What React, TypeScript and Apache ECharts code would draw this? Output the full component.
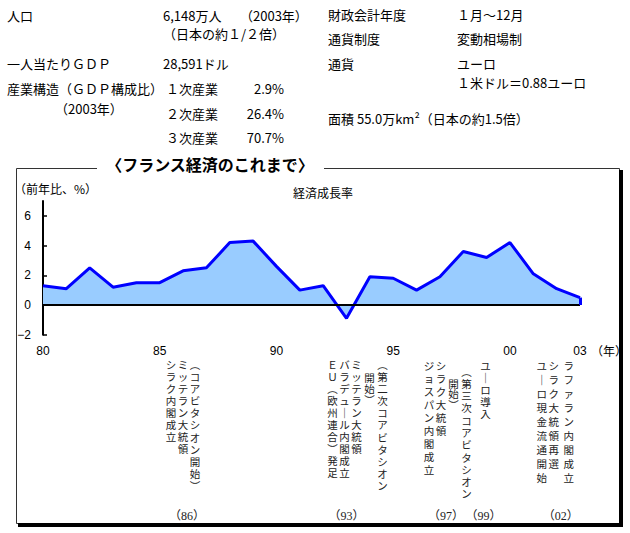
import React, { useEffect, useRef } from 'react';
import * as echarts from 'echarts';

// ---- data ----
const years = ['1980','1981','1982','1983','1984','1985','1986','1987','1988','1989','1990','1991','1992','1993','1994','1995','1996','1997','1998','1999','2000','2001','2002','2003'];
const growth = [1.3, 1.1, 2.5, 1.2, 1.5, 1.5, 2.3, 2.5, 4.2, 4.3, 2.6, 1.0, 1.3, -0.9, 1.9, 1.8, 1.0, 1.9, 3.6, 3.2, 4.2, 2.1, 1.1, 0.5];
const yTicks = [-2, 0, 2, 4, 6];
const xLabelYears = ['1980', '1985', '1990', '1995', '2000', '2003'];

const chartTitle = '〈フランス経済のこれまで〉';
const seriesName = '経済成長率';
const yUnit = '（前年比、%）';
const xUnit = '（年）';

const profileLeftTexts = ['人口', '6,148万人', '（2003年）', '（日本の約１/２倍）', '一人当たりＧＤＰ', '28,591ドル', '産業構造（ＧＤＰ構成比）', '（2003年）'];
const industryNames = ['１次産業', '２次産業', '３次産業'];
const industryShares = ['2.9%', '26.4%', '70.7%'];
const profileRightTexts = ['財政会計年度', '１月～12月', '通貨制度', '変動相場制', '通貨', 'ユーロ', '１米ドル＝0.88ユーロ', '面積 55.0万km²（日本の約1.5倍）'];

const eventYears = ['1986', '1993', '1997', '1999', '2002'];
const eventLabels = ['（86）', '（93）', '（97）', '（99）', '（02）'];
// columns listed left to right
const eventTexts = [
  ['シラク内閣成立', 'ミッテラン大統領', '（コアビタシオン開始）'],
  ['ＥＵ（欧州連合）発足', 'バラデュール内閣成立', 'ミッテラン大統領', '開始）', '（第二次コアビタシオン'],
  ['ジョスパン内閣成立', 'シラク大統領'],
  ['開始）', '（第三次コアビタシオン', 'ユーロ導入'],
  ['ユーロ現金流通開始', 'シラク大統領再選', 'ラファラン内閣成立'],
];

// ---- layout (positions / styles) ----
const JP = "'Noto Sans CJK JP', sans-serif";
const profileLeftPos = [[7, 15], [163, 15], [240, 15], [163, 33], [7, 63], [163, 63], [7, 88], [55, 108]];
const profileRightPos = [[328, 14], [457, 14], [328, 38], [457, 38], [328, 63], [457, 63], [457, 82], [328, 118]];
const industryY = [88, 113, 137];
const eventLayout = [
  { dx: [-12, 0, 12], y0: [364, 364, 364], step: [12, 12, 12.2], labelDx: 4 },
  { dx: [-14, -2, 10, 23, 36], y0: [364, 364, 364, 377, 364], step: [12, 12, 12, 11, 12.2], labelDx: 0 },
  { dx: [-11, 1], y0: [365, 365], step: [13, 13], labelDx: 6 },
  { dx: [-33, -20, -1], y0: [383, 371, 365], step: [10.5, 12.3, 12], labelDx: -3 },
  { dx: [-15, -3, 12], y0: [365, 365, 365], step: [14, 14, 14], labelDx: 4 },
];

const vmap: Record<string, string> = { '（': '︵', '）': '︶', 'ー': '｜' };

export default function App() {
  const ref = useRef<HTMLDivElement>(null);
  useEffect(() => {
    if (!ref.current) return;
    const chart = echarts.init(ref.current, undefined, { renderer: 'svg' });
    const last = years.length - 1;
    chart.setOption({
      animation: false,
      backgroundColor: '#fff',
      grid: { left: 43, right: 50, top: 201, bottom: 198.3, containLabel: false },
      xAxis: {
        type: 'category',
        data: years,
        boundaryGap: false,
        axisLine: { show: false, onZero: false },
        axisTick: { show: false },
        splitLine: { show: false },
        axisLabel: {
          interval: (_i: number, v: string) => xLabelYears.includes(v),
          formatter: (v: string) => v.slice(2),
          color: '#000',
          fontSize: 12,
          fontFamily: "'Liberation Sans', Arial, sans-serif",
          margin: 10,
        },
      },
      yAxis: {
        type: 'value',
        min: -2,
        max: 7,
        interval: 1,
        axisLine: { show: true, lineStyle: { color: '#000', width: 2 } },
        axisTick: { show: true, inside: true, length: 4, customValues: yTicks, lineStyle: { color: '#000', width: 1.5 } },
        axisLabel: {
          customValues: yTicks,
          formatter: (v: number) => (v < 0 ? '−' + Math.abs(v) : String(v)),
          color: '#000',
          fontSize: 12,
          fontFamily: "'Liberation Sans', Arial, sans-serif",
          margin: 12,
        },
        splitLine: { show: false },
      },
      series: [
        {
          type: 'line',
          name: seriesName,
          data: growth,
          symbol: 'none',
          lineStyle: { color: '#0000ff', width: 3 },
          areaStyle: { color: '#99ccff', opacity: 1 },
          markLine: {
            silent: true,
            symbol: 'none',
            label: { show: false },
            data: [
              { yAxis: 0, lineStyle: { color: '#000', width: 2, type: 'solid' } },
              [
                { coord: [years[last], growth[last]], lineStyle: { color: '#0000ff', width: 3, type: 'solid' } },
                { coord: [years[last], 0] },
              ],
            ],
          },
        },
      ],
    });

    const g: any[] = [];
    const txt = (text: string, x: number, y: number, opt: any = {}) =>
      g.push({
        type: 'text',
        x,
        y,
        z: 20,
        style: {
          text,
          fill: opt.fill || '#000',
          font: opt.font || `13px ${JP}`,
          textAlign: opt.align || 'left',
          textVerticalAlign: opt.valign || 'middle',
          lineHeight: opt.lineHeight,
        },
      });

    // frame
    g.push({ type: 'rect', z: 1, shape: { x: 16.5, y: 168.5, width: 603, height: 355 }, style: { fill: 'none', stroke: '#333', lineWidth: 1 } });
    g.push({ type: 'rect', z: 2, shape: { x: 619, y: 170, width: 4, height: 357 }, style: { fill: '#000' } });
    g.push({ type: 'rect', z: 2, shape: { x: 18, y: 523, width: 605, height: 4 }, style: { fill: '#000' } });
    g.push({ type: 'rect', z: 3, shape: { x: 97, y: 156, width: 227, height: 20 }, style: { fill: '#fff' } });
    txt(chartTitle, 210, 164, { font: `bold 16px ${JP}`, align: 'center' });

    // profile
    profileLeftTexts.forEach((t, i) => txt(t, profileLeftPos[i][0], profileLeftPos[i][1]));
    industryNames.forEach((t, i) => txt(t, 166, industryY[i]));
    industryShares.forEach((t, i) => txt(t, 284, industryY[i], { align: 'right' }));
    profileRightTexts.forEach((t, i) => txt(t, profileRightPos[i][0], profileRightPos[i][1]));

    // chart texts
    txt(yUnit, 14, 188, { font: `12px ${JP}` });
    txt(seriesName, 323, 192, { font: `12px ${JP}`, align: 'center' });
    txt(xUnit, 609, 350, { font: `12px ${JP}`, align: 'center' });

    // events (vertical columns)
    eventYears.forEach((yr, gi) => {
      const cx = chart.convertToPixel({ xAxisIndex: 0 }, years.indexOf(yr)) as number;
      const lay = eventLayout[gi];
      eventTexts[gi].forEach((col, ci) => {
        const vertical = Array.from(col).map((ch) => vmap[ch] || ch).join('\n');
        const step = lay.step[ci];
        txt(vertical, cx + lay.dx[ci], lay.y0[ci] - step / 2, {
          font: `10.5px ${JP}`,
          align: 'center',
          valign: 'top',
          lineHeight: step,
          fill: '#222',
        });
      });
      txt(eventLabels[gi], cx + lay.labelDx, 516, { font: `12px 'Liberation Serif', ${JP}`, align: 'center', fill: '#222' });
    });

    chart.setOption({ graphic: { elements: g } });
    return () => chart.dispose();
  }, []);
  return <div ref={ref} style={{ position: 'absolute', left: 0, top: 0, width: 630, height: 533 }} />;
}
